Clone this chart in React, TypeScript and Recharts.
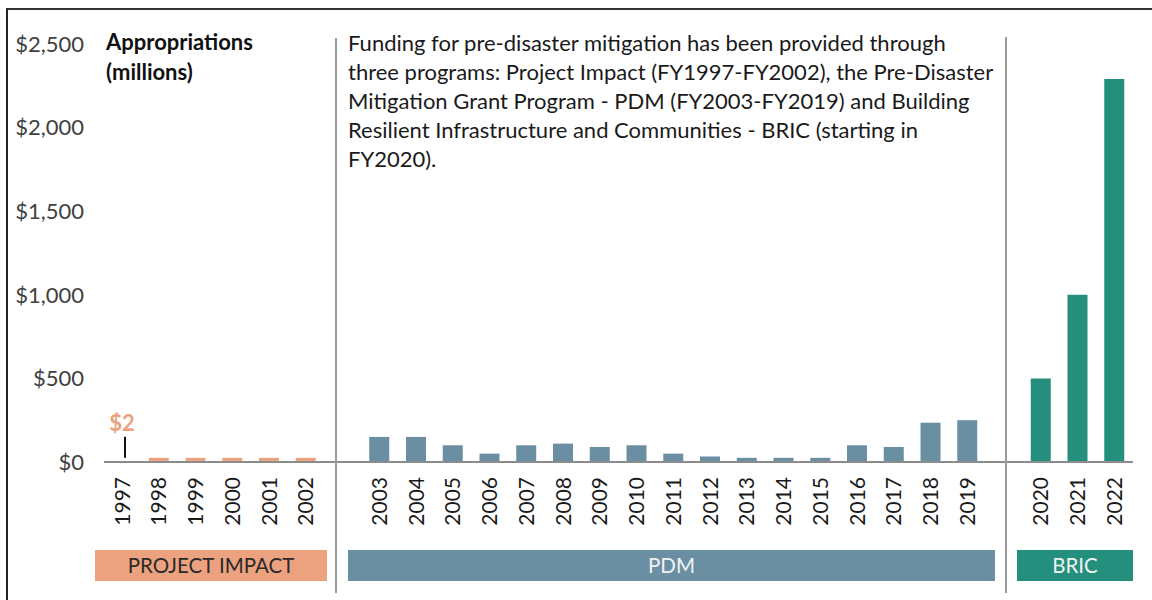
import React from 'react';
import { BarChart, Bar, XAxis, YAxis, Cell } from 'recharts';

// categories, with an empty slot between programs
const years = [
  '1997', '1998', '1999', '2000', '2001', '2002', '',
  '2003', '2004', '2005', '2006', '2007', '2008', '2009', '2010', '2011',
  '2012', '2013', '2014', '2015', '2016', '2017', '2018', '2019', '',
  '2020', '2021', '2022',
];

// appropriations, $ millions
const amounts = [
  2, 25, 25, 25, 25, 25, null,
  150, 150, 100, 50, 100, 110, 90, 100, 50,
  33, 25, 25, 25, 100, 90, 235, 250, null,
  500, 1000, 2290,
];

const programs = [
  'pi', 'pi', 'pi', 'pi', 'pi', 'pi', 'gap',
  'pdm', 'pdm', 'pdm', 'pdm', 'pdm', 'pdm', 'pdm', 'pdm', 'pdm',
  'pdm', 'pdm', 'pdm', 'pdm', 'pdm', 'pdm', 'pdm', 'pdm', 'gap',
  'bric', 'bric', 'bric',
];

const yTicks = [0, 500, 1000, 1500, 2000, 2500];

const colors: Record<string, string> = {
  pi: '#EDA27F',
  pdm: '#6A8EA2',
  bric: '#238F7C',
  gap: '#ffffff',
};

const data = years.map((year, i) => ({ year, amount: amounts[i], program: programs[i] }));

const FONT = 'Lato, "Open Sans", sans-serif';

const YearTick = ({ x, y, payload }: any) => (
  <text
    x={x}
    y={y}
    transform={`rotate(-90, ${x}, ${y})`}
    textAnchor="end"
    dy="0.35em"
    fontSize={21}
    fontFamily={FONT}
    fill="#1a1a1a"
  >
    {payload.value}
  </text>
);

const FirstLabel = (props: any) => {
  const { x, y, width, index } = props;
  if (index !== 0) return null;
  const cx = x + width / 2 + 3;
  return (
    <g>
      <line x1={cx} x2={cx} y1={y - 4} y2={y - 25} stroke="#111" strokeWidth={2} />
      <text x={cx - 3} y={y - 31} textAnchor="middle" fontSize={22} fontWeight={700} fontFamily={FONT} fill="#EDA27F">
        $2
      </text>
    </g>
  );
};

const bands = [
  { name: 'PROJECT IMPACT', left: 95, width: 232, bg: '#EDA27F', fg: '#2a2a2a' },
  { name: 'PDM', left: 348, width: 647, bg: '#6A8EA2', fg: '#f2f2f2' },
  { name: 'BRIC', left: 1017, width: 116, bg: '#238F7C', fg: '#f2f2f2' },
];

const App: React.FC = () => {
  return (
    <div style={{ position: 'fixed', left: 0, top: 0, width: 1152, height: 600, background: '#fff', fontFamily: FONT }}>
      <div style={{ position: 'absolute', left: 6, top: 8, width: 1146, height: 592, borderTop: '2px solid #333', borderLeft: '2px solid #222' }} />
      <BarChart width={1152} height={600} data={data} margin={{ top: 44, right: 19, bottom: 0, left: 0 }}>
        <XAxis
          dataKey="year"
          interval={0}
          height={138}
          tickLine={false}
          tickSize={0}
          tickMargin={15}
          axisLine={{ stroke: '#8c8c8c', strokeWidth: 2 }}
          tick={<YearTick />}
        />
        <YAxis
          width={104}
          domain={[0, 2500]}
          ticks={yTicks}
          axisLine={false}
          tickLine={false}
          tickSize={0}
          tickMargin={20}
          tickFormatter={(v: number) => `$${v.toLocaleString('en-US')}`}
          tick={{ fontSize: 22, fontFamily: FONT, fill: '#404040' }}
        />
        <Bar dataKey="amount" barSize={20} isAnimationActive={false} label={<FirstLabel />}>
          {data.map((d, i) => (
            <Cell key={`c-${i}`} fill={colors[d.program]} />
          ))}
        </Bar>
      </BarChart>

      <div style={{ position: 'absolute', left: 335, top: 38, width: 2, height: 555, background: '#9a9a9a' }} />
      <div style={{ position: 'absolute', left: 1005, top: 37, width: 2, height: 556, background: '#9a9a9a' }} />

      <div style={{ position: 'absolute', left: 106, top: 27, fontSize: 22, fontWeight: 700, lineHeight: '30px', color: '#111' }}>
        Appropriations
        <br />
        (millions)
      </div>

      <div style={{ position: 'absolute', left: 348, top: 28, width: 720, fontSize: 22, lineHeight: '29px', color: '#1a1a1a' }}>
        Funding for pre-disaster mitigation has been provided through
        <br />
        three programs: Project Impact (FY1997-FY2002), the Pre-Disaster
        <br />
        Mitigation Grant Program - PDM (FY2003-FY2019) and Building
        <br />
        Resilient Infrastructure and Communities - BRIC (starting in
        <br />
        FY2020).
      </div>

      {bands.map((b) => (
        <div
          key={b.name}
          style={{
            position: 'absolute',
            left: b.left,
            top: 550,
            width: b.width,
            height: 31,
            background: b.bg,
            color: b.fg,
            fontSize: 20.5,
            lineHeight: '31px',
            textAlign: 'center',
          }}
        >
          {b.name}
        </div>
      ))}
    </div>
  );
};

export default App;
